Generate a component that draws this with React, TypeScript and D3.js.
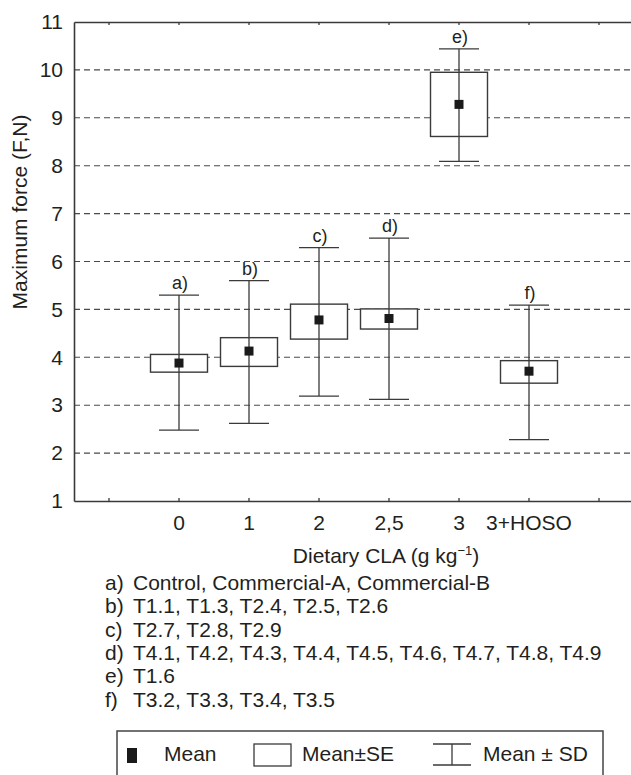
import React, { useEffect, useRef } from 'react';
import * as d3 from 'd3';

// Data
const categories = ['0', '1', '2', '2,5', '3', '3+HOSO'];
const groupLabels = ['a)', 'b)', 'c)', 'd)', 'e)', 'f)'];
const means = [3.88, 4.13, 4.78, 4.81, 9.28, 3.71];
const seLow = [3.69, 3.81, 4.38, 4.59, 8.61, 3.46];
const seHigh = [4.06, 4.41, 5.11, 5.01, 9.95, 3.93];
const sdLow = [2.48, 2.62, 3.19, 3.12, 8.09, 2.28];
const sdHigh = [5.3, 5.6, 6.29, 6.49, 10.44, 5.09];
const yTicks = [1, 2, 3, 4, 5, 6, 7, 8, 9, 10, 11];
const gridValues = [2, 3, 4, 5, 6, 7, 8, 9, 10];
const footKeys = ['a)', 'b)', 'c)', 'd)', 'e)', 'f)'];
const footTexts = [
  'Control, Commercial-A, Commercial-B',
  'T1.1, T1.3, T2.4, T2.5, T2.6',
  'T2.7, T2.8, T2.9',
  'T4.1, T4.2, T4.3, T4.4, T4.5, T4.6, T4.7, T4.8, T4.9',
  'T1.6',
  'T3.2, T3.3, T3.4, T3.5'
];

const FONT = '"Liberation Sans", Arial, Helvetica, sans-serif';
const INK = '#231f20';
const LINE = '#3a3a3a';

const App: React.FC = () => {
  const svgRef = useRef<SVGSVGElement>(null);

  useEffect(() => {
    if (!svgRef.current) return;
    const svg = d3.select(svgRef.current);
    svg.selectAll('*').remove();

    const left = 74, right = 634, top = 22, bottom = 501;

    // blank slots on both ends, as in the original axis
    const slots = ['_l', ...categories, '_r'];
    const x = d3.scaleBand().domain(slots).range([left, right]).padding(0);
    const cx = (c: string) => x(c)! + x.bandwidth() / 2;
    const y = d3.scaleLinear().domain([1, 11]).range([bottom, top]);

    // Grid
    svg.append('g')
      .selectAll('line')
      .data(gridValues)
      .enter().append('line')
      .attr('x1', left).attr('x2', 631)
      .attr('y1', d => y(d)).attr('y2', d => y(d))
      .attr('stroke', '#4a4a4a')
      .attr('stroke-width', 1.1)
      .attr('stroke-dasharray', '6,4');

    // Axes
    const fmt = (d: string) => (d.startsWith('_') ? '' : d);

    const yAxis = svg.append('g')
      .attr('transform', `translate(${left},0)`)
      .call(d3.axisLeft(y).tickValues(yTicks).tickSize(0).tickPadding(11).tickFormat(d3.format('d')));

    const xAxis = svg.append('g')
      .attr('transform', `translate(0,${bottom})`)
      .call(d3.axisBottom(x).tickSizeInner(-3).tickSizeOuter(0).tickPadding(14).tickFormat(fmt));

    const topAxis = svg.append('g')
      .attr('transform', `translate(0,${top})`)
      .call(d3.axisTop(x).tickSizeInner(-3).tickSizeOuter(0).tickFormat(() => ''));

    [yAxis, xAxis, topAxis].forEach(a => {
      a.selectAll('path').attr('stroke', LINE).attr('stroke-width', 1.6);
      a.selectAll('line').attr('stroke', LINE).attr('stroke-width', 1.3);
      a.selectAll('text')
        .style('font-family', FONT)
        .style('font-size', '21px')
        .attr('fill', INK);
    });

    // Whiskers, boxes, means
    const g = svg.append('g');
    const boxW = 57, capW = 40, dot = 9;

    categories.forEach((c, i) => {
      const px = cx(c);
      g.append('line')
        .attr('x1', px).attr('x2', px)
        .attr('y1', y(sdLow[i])).attr('y2', y(sdHigh[i]))
        .attr('stroke', LINE).attr('stroke-width', 1.3);
      [sdLow[i], sdHigh[i]].forEach(v => {
        g.append('line')
          .attr('x1', px - capW / 2).attr('x2', px + capW / 2)
          .attr('y1', y(v)).attr('y2', y(v))
          .attr('stroke', LINE).attr('stroke-width', 1.3);
      });
      g.append('rect')
        .attr('x', px - boxW / 2)
        .attr('y', y(seHigh[i]))
        .attr('width', boxW)
        .attr('height', y(seLow[i]) - y(seHigh[i]))
        .attr('fill', 'white')
        .attr('stroke', LINE)
        .attr('stroke-width', 1.4);
      // vertical line visible through the box
      g.append('line')
        .attr('x1', px).attr('x2', px)
        .attr('y1', y(seHigh[i])).attr('y2', y(seLow[i]))
        .attr('stroke', LINE).attr('stroke-width', 1.3);
      g.append('rect')
        .attr('x', px - dot / 2)
        .attr('y', y(means[i]) - dot / 2)
        .attr('width', dot).attr('height', dot)
        .attr('fill', '#1a1a1a');
      g.append('text')
        .attr('x', px + 1)
        .attr('y', y(sdHigh[i]) - 6)
        .attr('text-anchor', 'middle')
        .style('font-family', FONT)
        .style('font-size', '18px')
        .attr('fill', INK)
        .text(groupLabels[i]);
    });

    // Axis titles
    svg.append('text')
      .attr('transform', `translate(27,212) rotate(-90)`)
      .attr('text-anchor', 'middle')
      .style('font-family', FONT)
      .style('font-size', '21px')
      .attr('fill', INK)
      .text('Maximum force (F,N)');

    const xt = svg.append('text')
      .attr('x', 386)
      .attr('y', 563)
      .attr('text-anchor', 'middle')
      .style('font-family', FONT)
      .style('font-size', '21px')
      .attr('fill', INK);
    xt.append('tspan').text('Dietary CLA (g kg');
    xt.append('tspan').attr('dy', -8).style('font-size', '13px').text('\u22121');
    xt.append('tspan').attr('dy', 8).text(')');

    // Footnotes
    const fn = svg.append('g')
      .style('font-family', FONT)
      .style('font-size', '21px')
      .attr('fill', INK);
    footKeys.forEach((k, i) => {
      const by = 590 + i * 23.3;
      fn.append('text').attr('x', 105).attr('y', by).text(k);
      fn.append('text').attr('x', 133).attr('y', by).text(footTexts[i]);
    });

    // Legend
    const lg = svg.append('g');
    lg.append('rect')
      .attr('x', 117).attr('y', 731)
      .attr('width', 486).attr('height', 70)
      .attr('fill', 'none')
      .attr('stroke', '#444')
      .attr('stroke-width', 1.5);
    lg.append('rect')
      .attr('x', 127).attr('y', 748).attr('width', 10).attr('height', 15)
      .attr('fill', '#1a1a1a');
    lg.append('rect')
      .attr('x', 254).attr('y', 744).attr('width', 37).attr('height', 22)
      .attr('fill', 'white').attr('stroke', LINE).attr('stroke-width', 1.3);
    [744, 765].forEach(v => {
      lg.append('line').attr('x1', 433).attr('x2', 471).attr('y1', v).attr('y2', v)
        .attr('stroke', LINE).attr('stroke-width', 1.3);
    });
    lg.append('line').attr('x1', 452).attr('x2', 452).attr('y1', 744).attr('y2', 765)
      .attr('stroke', LINE).attr('stroke-width', 1.3);
    const legendText = [
      { x: 164, t: 'Mean' },
      { x: 302, t: 'Mean\u00b1SE' },
      { x: 483, t: 'Mean \u00b1 SD' }
    ];
    legendText.forEach(d => {
      lg.append('text')
        .attr('x', d.x).attr('y', 761)
        .style('font-family', FONT)
        .style('font-size', '21px')
        .attr('fill', INK)
        .text(d.t);
    });
  }, []);

  return (
    <svg
      ref={svgRef}
      width={631}
      height={775}
      style={{ position: 'absolute', left: 0, top: 0, background: 'white' }}
    />
  );
};

export default App;
